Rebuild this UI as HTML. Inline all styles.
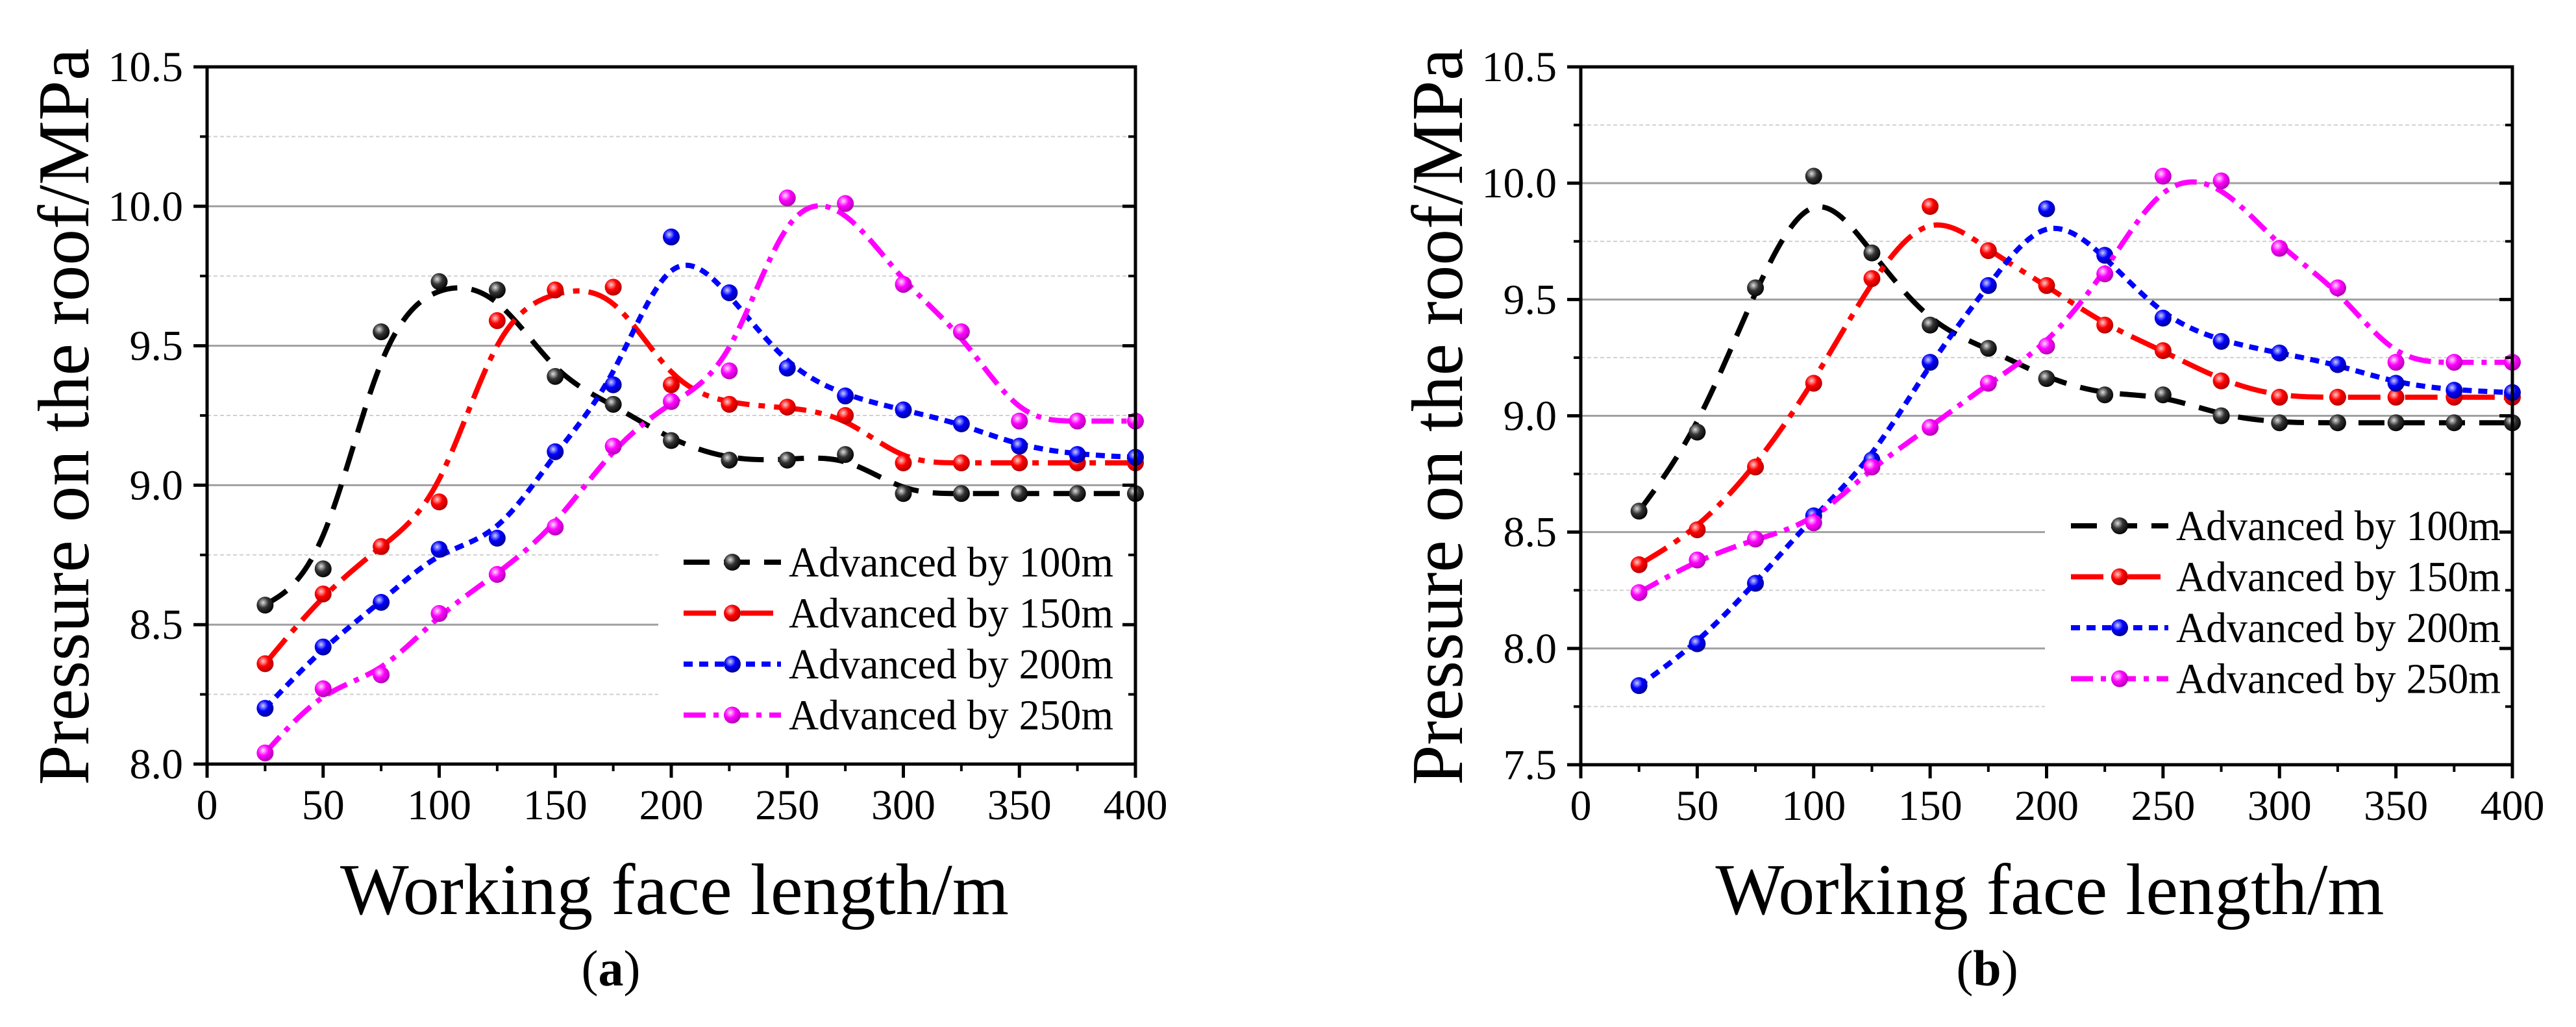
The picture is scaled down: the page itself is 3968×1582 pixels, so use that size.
<!DOCTYPE html>
<html><head><meta charset="utf-8"><style>
html,body{margin:0;padding:0;background:#fff;}
svg{display:block;}
svg text{font-family:"Liberation Serif","Times New Roman",serif;}
</style></head>
<body>
<svg id="fig" width="3968" height="1582" viewBox="0 0 3968 1582" xmlns="http://www.w3.org/2000/svg" font-family="Liberation Serif, serif">
<defs>
<radialGradient id="g-black" cx="0.38" cy="0.35" r="0.7"><stop offset="0" stop-color="#ddd"/><stop offset="0.45" stop-color="#333"/><stop offset="1" stop-color="#000"/></radialGradient>
<radialGradient id="g-red" cx="0.38" cy="0.35" r="0.7"><stop offset="0" stop-color="#fcc"/><stop offset="0.45" stop-color="#f00"/><stop offset="1" stop-color="#a00"/></radialGradient>
<radialGradient id="g-blue" cx="0.38" cy="0.35" r="0.7"><stop offset="0" stop-color="#ccf"/><stop offset="0.45" stop-color="#00f"/><stop offset="1" stop-color="#008"/></radialGradient>
<radialGradient id="g-mag" cx="0.38" cy="0.35" r="0.7"><stop offset="0" stop-color="#fdf"/><stop offset="0.45" stop-color="#f0f"/><stop offset="1" stop-color="#a0a"/></radialGradient>
</defs>
</svg>
<script>
const xValues = [25,50,75,100,125,150,175,200,225,250,275,300,325,350,375,400];
const seriesNames = ["Advanced by 100m","Advanced by 150m","Advanced by 200m","Advanced by 250m"];
const a100 = [8.57,8.70,9.55,9.73,9.70,9.39,9.29,9.16,9.09,9.09,9.11,8.97,8.97,8.97,8.97,8.97];
const a150 = [8.36,8.61,8.78,8.94,9.59,9.70,9.71,9.36,9.29,9.28,9.25,9.08,9.08,9.08,9.08,9.08];
const a200 = [8.20,8.42,8.58,8.77,8.81,9.12,9.36,9.89,9.69,9.42,9.32,9.27,9.22,9.14,9.11,9.10];
const a250 = [8.04,8.27,8.32,8.54,8.68,8.85,9.14,9.30,9.41,10.03,10.01,9.72,9.55,9.23,9.23,9.23];
const b100 = [8.59,8.93,9.55,10.03,9.70,9.39,9.29,9.16,9.09,9.09,9.00,8.97,8.97,8.97,8.97,8.97];
const b150 = [8.36,8.51,8.78,9.14,9.59,9.90,9.71,9.56,9.39,9.28,9.15,9.08,9.08,9.08,9.08,9.08];
const b200 = [7.84,8.02,8.28,8.57,8.81,9.23,9.56,9.89,9.69,9.42,9.32,9.27,9.22,9.14,9.11,9.10];
const b250 = [8.24,8.38,8.47,8.54,8.78,8.95,9.14,9.30,9.61,10.03,10.01,9.72,9.55,9.23,9.23,9.23];
const xTicks = [0,50,100,150,200,250,300,350,400];
const yTicksA = ["8.0","8.5","9.0","9.5","10.0","10.5"];
const yTicksB = ["7.5","8.0","8.5","9.0","9.5","10.0","10.5"];

const NS="http://www.w3.org/2000/svg";
const svg=document.getElementById('fig');
function mk(tag,attrs,parent){const e=document.createElementNS(NS,tag);for(const k in attrs)e.setAttribute(k,attrs[k]);(parent||svg).appendChild(e);return e;}

const colors=["#000","#f00","#00f","#f0f"];
const grads=["url(#g-black)","url(#g-red)","url(#g-blue)","url(#g-mag)"];
const dashes=["40,22","50,14,10,14","14,10","34,12,8,12"];
const seriesKeys=["100m","150m","200m","250m"];

function bspline(pts){
  const P=[pts[0],pts[0]].concat(pts,[pts[pts.length-1],pts[pts.length-1]]);
  let d='';
  for(let i=0;i<P.length-3;i++){
    const p0=P[i],p1=P[i+1],p2=P[i+2],p3=P[i+3];
    const b0=[(p0[0]+4*p1[0]+p2[0])/6,(p0[1]+4*p1[1]+p2[1])/6];
    const b1=[(2*p1[0]+p2[0])/3,(2*p1[1]+p2[1])/3];
    const b2=[(p1[0]+2*p2[0])/3,(p1[1]+2*p2[1])/3];
    const b3=[(p1[0]+4*p2[0]+p3[0])/6,(p1[1]+4*p2[1]+p3[1])/6];
    if(i===0)d+='M'+b0[0]+','+b0[1];
    d+=` C${b1[0]},${b1[1]} ${b2[0]},${b2[1]} ${b3[0]},${b3[1]}`;
  }
  return d;
}

function panel(id,L,R,T,B,yMin,yMax,yTicks,series,legX,legY0,gridCut,label,labelX){
  const g=mk('g',{});
  
  
  const sx=v=>L+(v-0)/400*(R-L);
  const sy=v=>B-(v-yMin)/(yMax-yMin)*(B-T);
  for(let v=yMin+0.25;v<yMax-0.01;v+=0.25){
    const major=Math.abs(v*2-Math.round(v*2))<0.01;
    const y=sy(v);
    const ln=mk('line',{x1:L,x2:R,y1:y,y2:y,stroke:major?'#a0a0a0':'#d0d0d0','stroke-width':major?3:2,'stroke-dasharray':major?'':'6,4'},g);
    
    
  }
  const lb=mk('rect',{x:gridCut,y:legY0-50,width:R-gridCut-3,height:330,fill:'#fff'},g);
  
  
  series.forEach((vals,si)=>{
    const pts=xValues.map((x,i)=>[sx(x),sy(vals[i])]);
    const path=mk('path',{d:bspline(pts),fill:'none',stroke:colors[si],'stroke-width':8,'stroke-dasharray':dashes[si]},g);
    
    
    pts.forEach(p=>{
      const c=mk('circle',{cx:p[0],cy:p[1],r:13,fill:grads[si]},g);
      
      
    });
  });
  const fr=mk('rect',{x:L,y:T,width:R-L,height:B-T,fill:'none',stroke:'#000','stroke-width':5},g);
  
  
  xTicks.forEach(v=>{
    const x=sx(v);
    const t=mk('line',{x1:x,x2:x,y1:B,y2:B+21,stroke:'#000','stroke-width':5},g);
    
    
    if(v<400){
      const tm=mk('line',{x1:sx(v+25),x2:sx(v+25),y1:B,y2:B+11,stroke:'#000','stroke-width':4},g);
      
      
    }
    const tx=mk('text',{x:x,y:B+85,'font-size':66,'text-anchor':'middle'},g);
    tx.textContent=v;
    
    
  });
  yTicks.forEach(s=>{
    const y=sy(parseFloat(s));
    const t=mk('line',{x1:L-21,x2:L,y1:y,y2:y,stroke:'#000','stroke-width':5},g);
    
    
    const t2=mk('line',{x1:R-20,x2:R,y1:y,y2:y,stroke:'#000','stroke-width':5},g);
    
    
    const y2=sy(parseFloat(s)+0.25);
    if(parseFloat(s)<yMax){
      const tm=mk('line',{x1:L-11,x2:L,y1:y2,y2:y2,stroke:'#000','stroke-width':4},g);
      
      
      const tm2=mk('line',{x1:R-11,x2:R,y1:y2,y2:y2,stroke:'#000','stroke-width':4},g);
      
      
    }
    const tx=mk('text',{x:L-37,y:y+22,'font-size':66,'text-anchor':'end'},g);
    tx.textContent=s;
    
    
  });
  const yt=mk('text',{x:0,y:0,'font-size':112,'text-anchor':'middle',transform:`translate(${L-183},${642}) rotate(-90)`,textLength:1135,lengthAdjust:'spacingAndGlyphs'},g);
  yt.textContent='Pressure on the roof/MPa';
  
  
  const xt=mk('text',{x:(L+R)/2+5,y:1408,'font-size':112,'text-anchor':'middle',textLength:1030,lengthAdjust:'spacingAndGlyphs'},g);
  xt.textContent='Working face length/m';
  
  
  const pl=mk('text',{x:labelX,y:1518,'font-size':78,'text-anchor':'middle'},g);
  pl.innerHTML='(<tspan font-weight="bold">'+label+'</tspan>)';
  
  
  seriesNames.forEach((n,si)=>{
    const y=legY0+si*78.5;
    const le=mk('g',{},g);
    
    
    mk('line',{x1:legX,x2:legX+150,y1:y,y2:y,stroke:colors[si],'stroke-width':8,'stroke-dasharray':dashes[si]},le);
    mk('circle',{cx:legX+75,cy:y,r:13,fill:grads[si]},le);
    const t=mk('text',{x:legX+162,y:y+22,'font-size':66,textLength:500,lengthAdjust:'spacingAndGlyphs'},le);
    t.textContent=n;
  });
}
panel('a',319,1749,103,1177,8.0,10.5,yTicksA,[a100,a150,a200,a250],1053,866,1014,'a',941);
panel('b',2435,3870,103,1178,7.5,10.5,yTicksB,[b100,b150,b200,b250],3190,810,3150,'b',3061);
</script>
</body></html>
